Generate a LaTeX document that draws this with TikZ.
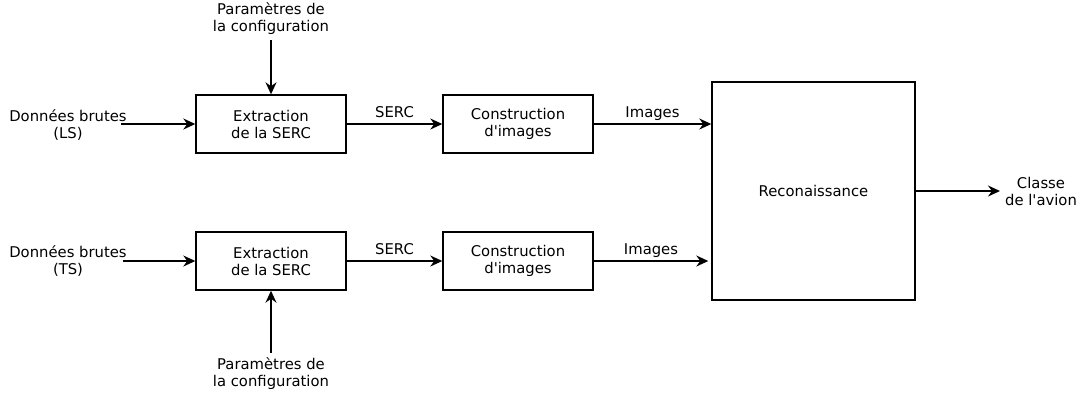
\documentclass[tikz,border=0pt]{standalone}
\usepackage{fontspec}
\setmainfont{DejaVu Sans}
\usetikzlibrary{positioning,arrows.meta}

\begin{document}
\begin{tikzpicture}[x=1pt,y=-1pt,
    font=\fontsize{14.8pt}{17pt}\selectfont,
    bloc/.style={draw,line width=1.4pt,minimum width=150pt,minimum height=58pt,align=center,inner sep=0pt},
    texte/.style={align=center,inner sep=0pt},
    lab/.style={above=6pt,inner sep=0pt,text depth=0pt},
    fleche/.style={-{Stealth[length=12pt,width=11pt]},line width=1.4pt}]

    \useasboundingbox (0,0) rectangle (1085,400);

    % Blocs
    \node[bloc] (ext1) at (271,124) {Extraction\\de la SERC};
    \node[bloc] (con1) at (518,124) {Construction\\d\textquotesingle images};
    \node[bloc] (ext2) at (271,261) {Extraction\\de la SERC};
    \node[bloc] (con2) at (518,261) {Construction\\d\textquotesingle images};
    \node[bloc,minimum width=203pt,minimum height=218pt] (reco) at (813.5,191) {Reconaissance};

    % Entrees et sortie
    \node[texte] (donLS) at (68,125) {Données brutes\\(LS)};
    \node[texte] (donTS) at (68,261) {Données brutes\\(TS)};
    \node[texte] (par1) at (271,19) {Paramètres de\\la configuration};
    \node[texte] (par2) at (271,374) {Paramètres de\\la configuration};
    \node[texte] (classe) at (1041,191) {Classe\\de l\textquotesingle avion};

    \coordinate (entLS) at (121,124);
    \coordinate (entTS) at (123,261);
    \coordinate (entP1) at (271,40);
    \coordinate (entP2) at (271,353);
    \coordinate (sortie) at (1000,191);

    % Fleches
    \draw[fleche] (entLS) -- (ext1);
    \draw[fleche] (entTS) -- (ext2);
    \draw[fleche] (entP1) -- (ext1);
    \draw[fleche] (entP2) -- (ext2);
    \draw[fleche] (ext1) -- node[lab] {SERC} (con1);
    \draw[fleche] (ext2) -- node[lab] {SERC} (con2);
    \draw[fleche] (con1) -- node[lab] {Images} (con1 -| reco.west);
    \draw[fleche] (con2) -- node[lab] {Images} ([xshift=-3pt]con2 -| reco.west);
    \draw[fleche] (reco) -- (sortie);
\end{tikzpicture}
\end{document}
